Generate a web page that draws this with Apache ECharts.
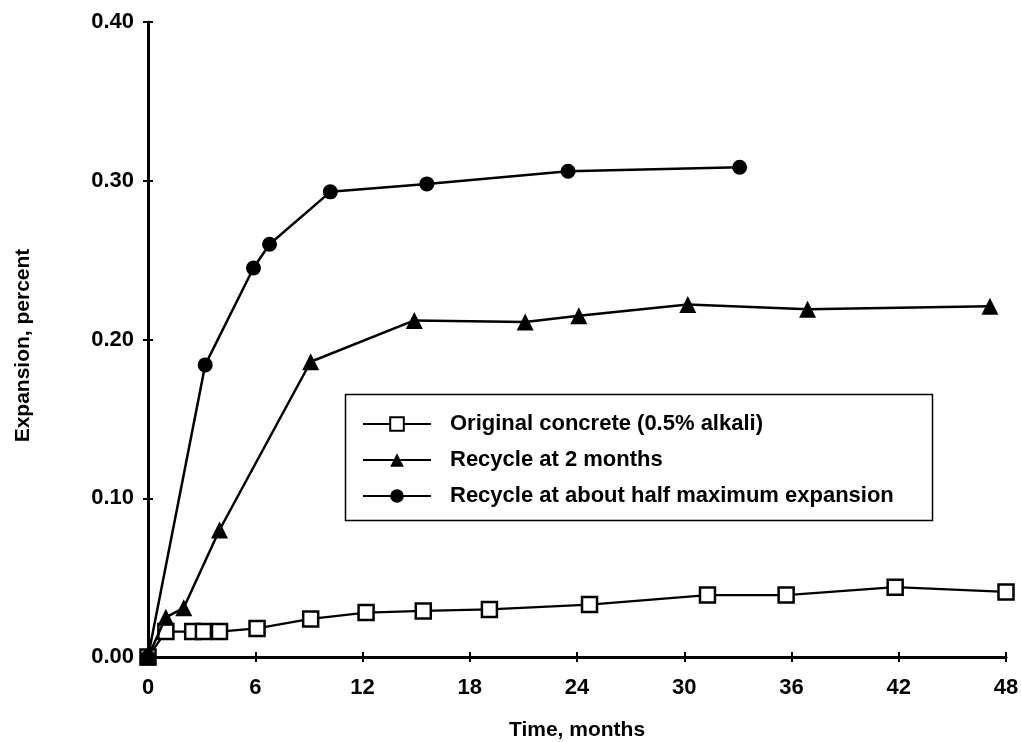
<!DOCTYPE html>
<html>
<head>
<meta charset="utf-8">
<title>Expansion vs time</title>
<script src="https://cdn.jsdelivr.net/npm/echarts@6/dist/echarts.min.js"></script>
<style>
  html, body { margin: 0; padding: 0; background: #fff; }
  #chart { width: 1021px; height: 742px; }
</style>
</head>
<body>
<div id="chart"></div>
<script>
// Time axis ticks (months) and expansion axis ticks (percent)
const xTicks = [0, 6, 12, 18, 24, 30, 36, 42, 48];
const yTicks = [0.00, 0.10, 0.20, 0.30, 0.40];

// Original concrete (0.5% alkali)
const originalMonths = [0, 1.0, 2.5, 3.1, 4.0, 6.1, 9.1, 12.2, 15.4, 19.1, 24.7, 31.3, 35.7, 41.8, 48.0];
const originalExpansion = [0, 0.016, 0.016, 0.016, 0.016, 0.018, 0.024, 0.028, 0.029, 0.030, 0.033, 0.039, 0.039, 0.044, 0.041];

// Recycle at 2 months
const recycle2Months = [0, 1.0, 2.0, 4.0, 9.1, 14.9, 21.1, 24.1, 30.2, 36.9, 47.1];
const recycle2Expansion = [0, 0.025, 0.031, 0.080, 0.186, 0.212, 0.211, 0.215, 0.222, 0.219, 0.221];

// Recycle at about half maximum expansion
const recycleHalfMonths = [0, 3.2, 5.9, 6.8, 10.2, 15.6, 23.5, 33.1];
const recycleHalfExpansion = [0, 0.184, 0.245, 0.260, 0.293, 0.298, 0.306, 0.3085];

const seriesNames = [
  'Original concrete (0.5% alkali)',
  'Recycle at 2 months',
  'Recycle at about half maximum expansion'
];

const zip = (xs, ys) => xs.map((x, i) => [x, ys[i]]);

const FONT = 'Liberation Sans, Arial, Helvetica, sans-serif';
const INK = '#000';

const chart = echarts.init(document.getElementById('chart'), null, { renderer: 'canvas' });

const axisCommon = {
  type: 'value',
  axisLine: { show: true, onZero: false, lineStyle: { color: INK, width: 3 } },
  axisTick: { show: true, length: 5, lineStyle: { color: INK, width: 2 } },
  splitLine: { show: false },
  nameMoveOverlap: false,
  nameTextStyle: { color: INK, fontFamily: FONT, fontWeight: 'bold', fontSize: 21 },
  axisLabel: { color: INK, fontFamily: FONT, fontWeight: 'bold', fontSize: 22 }
};

const xRange = { min: xTicks[0], max: xTicks[xTicks.length - 1], interval: xTicks[1] - xTicks[0] };
const yRange = { min: yTicks[0], max: yTicks[yTicks.length - 1], interval: yTicks[1] - yTicks[0] };

// Inner half of each tick mark, so ticks cross the axis line
const innerTicks = {
  type: 'value',
  axisLine: { show: false },
  axisLabel: { show: false },
  splitLine: { show: false },
  axisTick: { show: true, inside: true, length: 5, lineStyle: { color: INK, width: 2 } }
};

chart.setOption({
  backgroundColor: '#fff',
  animation: false,
  grid: { left: 148, right: 15, top: 22, bottom: 85, containLabel: false, outerBoundsMode: 'none' },
  xAxis: [
    Object.assign({}, axisCommon, xRange, {
      name: 'Time, months',
      nameLocation: 'middle',
      nameGap: 63,
      axisLabel: Object.assign({}, axisCommon.axisLabel, { margin: 20 })
    }),
    Object.assign({}, innerTicks, xRange, { position: 'bottom' })
  ],
  yAxis: [
    Object.assign({}, axisCommon, yRange, {
      name: 'Expansion, percent',
      nameLocation: 'middle',
      nameRotate: 90,
      nameGap: 114,
      nameTextStyle: Object.assign({}, axisCommon.nameTextStyle, { padding: [0, 12, 0, 0] }),
      axisLabel: Object.assign({}, axisCommon.axisLabel, {
        margin: 14,
        formatter: v => v.toFixed(2)
      })
    }),
    Object.assign({}, innerTicks, yRange, { position: 'left' })
  ],
  legend: {
    orient: 'vertical',
    left: 362,
    top: 413,
    padding: 0,
    itemGap: 14,
    itemWidth: 68,
    itemHeight: 17,
    data: seriesNames,
    textStyle: {
      color: INK, fontFamily: FONT, fontWeight: 'bold', fontSize: 22,
      lineHeight: 19, padding: [0, 0, 0, 14]
    }
  },
  graphic: [{
    type: 'rect',
    left: 343,
    top: 392,
    shape: { width: 587, height: 126 },
    style: { fill: 'none', stroke: INK, lineWidth: 1.5 },
    z: 10
  }],
  series: [
    {
      name: seriesNames[0],
      type: 'line',
      data: zip(originalMonths, originalExpansion),
      symbol: 'rect',
      symbolSize: 15,
      showAllSymbol: true,
      lineStyle: { color: INK, width: 2.2 },
      itemStyle: { color: '#fff', borderColor: INK, borderWidth: 2.5 },
      z: 2
    },
    {
      name: seriesNames[1],
      type: 'line',
      data: zip(recycle2Months, recycle2Expansion),
      symbol: 'triangle',
      symbolSize: 17,
      showAllSymbol: true,
      lineStyle: { color: INK, width: 2.5 },
      itemStyle: { color: INK, borderColor: INK, borderWidth: 0 },
      z: 3
    },
    {
      name: seriesNames[2],
      type: 'line',
      data: zip(recycleHalfMonths, recycleHalfExpansion),
      symbol: 'circle',
      symbolSize: 15,
      showAllSymbol: true,
      lineStyle: { color: INK, width: 2.5 },
      itemStyle: { color: INK, borderColor: INK, borderWidth: 0 },
      z: 4
    }
  ]
});
</script>
</body>
</html>
